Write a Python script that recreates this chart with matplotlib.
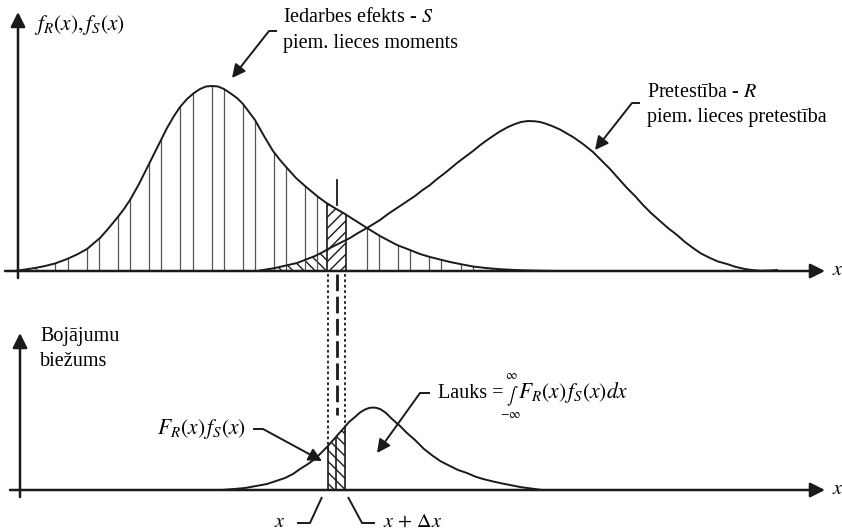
# Slodzes S un pretestības R sadalījumi un bojājumu biežums (shēma)
import matplotlib.pyplot as plt
import numpy as np
from matplotlib.patches import Polygon, Rectangle

plt.rcParams['font.family'] = ['Liberation Serif', 'DejaVu Serif']
plt.rcParams['mathtext.fontset'] = 'stix'
plt.rcParams['hatch.linewidth'] = 1.0

# nolasītas vērtības (x pozīcija, augstums virs ass)
s_x = [15, 25, 35, 45, 55, 67, 77, 87, 100, 108, 117, 124, 130, 139, 148, 154, 160, 167,
       174, 180, 187, 194, 200, 206, 212, 218, 224, 230, 237, 243, 249, 255, 264, 273,
       280, 287, 296, 305, 317, 325, 333, 345, 356, 367, 380, 397, 410, 420, 430, 440,
       450, 460, 473, 486, 500, 515, 530, 545, 560]
s_h = [0, 1.5, 3, 5, 7.5, 12, 16.5, 22, 33, 42, 53, 62, 71, 87, 105, 117, 129, 143,
       155, 164, 172, 178, 182, 184.5, 185, 184.5, 182, 178, 173, 167, 159, 151, 135, 120,
       111, 103, 93, 85, 75, 69, 64, 57, 50, 43, 35, 26, 21, 17, 14, 11.5,
       9, 7, 4.5, 3, 1.8, 1, 0.5, 0.2, 0]

r_x = [257, 266, 275, 286, 297, 306, 315, 323, 330, 340, 350, 358, 367, 380, 388, 397,
       406, 415, 422, 430, 437, 445, 451, 457, 465, 473, 481, 490, 499, 508, 515, 521,
       528, 535, 540, 545, 552, 560, 566, 573, 583, 593, 601, 610, 618, 627, 635, 643,
       651, 660, 668, 677, 685, 693, 701, 710, 718, 727, 736, 745, 752, 760, 770, 777]
r_h = [0, 1.5, 3, 5.5, 8, 11.5, 15, 19, 23, 28, 33, 38, 43, 51, 57, 63,
       69, 75, 80.5, 86, 92, 98, 103, 108, 114, 120, 126.5, 133, 139, 144, 147, 149,
       150, 149.7, 149, 147.6, 145, 141.5, 138, 134, 127, 119, 111, 102, 93, 83, 75, 66,
       58, 50, 43, 36, 29, 23, 17.5, 13, 9.5, 7, 4, 2, 1, 0.3, 0.5, 1]

b_x = [222, 234, 245, 256, 267, 276, 285, 293, 300, 308, 315, 321, 327, 335, 343, 349,
       355, 360, 365, 369, 373, 377, 381, 386, 392, 400, 407, 415, 424, 433, 441, 450, 458,
       467, 475, 483, 491, 500, 510, 520, 531, 542]
b_h = [0, 1, 2, 4, 6, 9, 12, 16, 21, 26, 31, 37, 43, 52, 61, 68,
       73, 77.5, 80.5, 82, 82.5, 82, 80.5, 77, 71, 64, 57, 50, 41, 34, 28.5, 24, 20,
       17, 13.5, 11, 9, 7, 5, 3, 1.5, 0]

# vertikālās svītras zem S līknes
stripe_x = [23, 36, 55, 68, 87, 99, 118, 130, 149, 161, 180, 193, 212, 224, 243, 255,
            274, 286, 305, 317, 367, 379, 398, 410, 429, 441, 461, 473, 492, 503, 523, 535]

x_lo, x_mid, x_hi = 327, 337, 346   # josla x ... x + dx
top_base, bot_base = 271, 490
ink = '#1a1a1a'

fig = plt.figure(figsize=(8.42, 5.31), dpi=100)
ax = fig.add_axes([0, 0, 1, 1])
ax.set_xlim(0, 842)
ax.set_ylim(531, 0)
ax.axis('off')

s_y = top_base - np.array(s_h)
r_y = top_base - np.array(r_h)
b_y = bot_base - np.array(b_h)

def area(xs, ys, base):
    pts = [(xs[0], base)] + list(zip(xs, ys)) + [(xs[-1], base)]
    return Polygon(pts, closed=True, transform=ax.transData)

s_area = area(s_x, s_y, top_base)
b_area = area(b_x, b_y, bot_base)

# svītras zem S
vl = ax.vlines(stripe_x, top_base, 0, color='#555555', lw=0.9)
vl.set_clip_path(s_area)

# F_R apgabals
f = ax.fill_between(r_x, top_base, r_y, facecolor='none', edgecolor=ink, hatch='\\\\\\', lw=0)
f.set_clip_path(Rectangle((r_x[0], 0), x_lo - r_x[0], 531, transform=ax.transData))

# josla augšā
f = ax.fill_between(s_x, top_base, s_y, facecolor='none', edgecolor=ink, hatch='///', lw=0)
f.set_clip_path(Rectangle((x_lo, 0), x_hi - x_lo, 531, transform=ax.transData))
vl = ax.vlines([x_lo, x_hi], top_base, 0, color=ink, lw=1.2)
vl.set_clip_path(s_area)
ax.plot([x_mid, x_mid], [180, 205], color=ink, lw=1.3)

# josla apakšā
f = ax.fill_between(b_x, bot_base, b_y, facecolor='none', edgecolor=ink, hatch='\\\\\\', lw=0)
f.set_clip_path(Rectangle((x_lo + 1, 0), x_hi - x_lo - 2, 531, transform=ax.transData))
vl = ax.vlines([x_lo + 1, x_mid - 1, x_hi - 1], bot_base, 0, color=ink, lw=1.2)
vl.set_clip_path(b_area)

# savienojošās līnijas
ax.plot([x_lo + 1, x_lo + 1], [274, 450], color=ink, lw=1.3, ls=(0, (1.5, 1.5)))
ax.plot([x_hi - 1, x_hi - 1], [274, 432], color=ink, lw=1.3, ls=(0, (1.5, 1.5)))
ax.plot([x_mid, x_mid], [274, 415], color=ink, lw=2.0, ls=(0, (6, 2)))

# līknes
ax.plot(s_x, s_y, color=ink, lw=1.4)
ax.plot(r_x, r_y, color=ink, lw=1.4)
ax.plot(b_x, b_y, color=ink, lw=1.4)

# asis
axarrow = dict(arrowstyle='-|>', lw=1.8, color=ink, mutation_scale=22, shrinkA=0, shrinkB=0)
ax.annotate('', xy=(18, 12), xytext=(18, 278), arrowprops=axarrow)
ax.annotate('', xy=(825, top_base), xytext=(5, top_base), arrowprops=axarrow)
ax.annotate('', xy=(20, 333), xytext=(20, 497), arrowprops=axarrow)
ax.annotate('', xy=(825, bot_base), xytext=(10, bot_base), arrowprops=axarrow)

fs = 14.5
fm = 15.5
ax.text(832, top_base + 4, '$x$', fontsize=fs, va='baseline')
ax.text(832, bot_base + 4, '$x$', fontsize=fs, va='baseline')
ax.text(34, 30, r'$f_R(x), f_S(x)$', fontsize=fm, va='baseline')
ax.text(40, 341, 'Bojājumu', fontsize=fs, va='baseline')
ax.text(40, 366, 'biežums', fontsize=fs, va='baseline')

# paskaidrojumi ar bultām
lead = dict(arrowstyle='-|>', lw=1.4, color=ink, mutation_scale=20, shrinkA=0, shrinkB=0)

def note(path, tip=None):
    xs, ys = zip(*path)
    ax.plot(xs, ys, color=ink, lw=1.4, solid_capstyle='butt')
    if tip is not None:
        ax.annotate('', xy=tip, xytext=path[-1], arrowprops=lead)

ax.text(283, 22, r'Iedarbes efekts - $S$', fontsize=fs, va='baseline')
ax.text(283, 48, 'piem. lieces moments', fontsize=fs, va='baseline')
note([(277, 31), (269, 31)], tip=(232, 78))

ax.text(647, 97, r'Pretestība - $R$', fontsize=fs, va='baseline')
ax.text(647, 122, 'piem. lieces pretestība', fontsize=fs, va='baseline')
note([(640, 103), (632, 103)], tip=(595, 150))

ax.text(246, 434, r'$F_R(x)\,f_S(x)$', fontsize=fm, va='baseline', ha='right')
note([(253, 429), (263, 429)], tip=(322, 461))

# Lauks = integrālis ar robežām virs un zem zīmes
ax.text(438, 398, 'Lauks =', fontsize=fs, va='baseline')
ax.text(506, 400, r'$\int$', fontsize=12, va='baseline')
ax.text(511, 379, r'$\infty$', fontsize=9, va='baseline', ha='center')
ax.text(511, 418, r'$-\infty$', fontsize=9, va='baseline', ha='center')
ax.text(518, 398, r'$F_R(x)\,f_S(x)dx$', fontsize=fm, va='baseline')
note([(430, 393), (420, 393)], tip=(377, 453))

ax.text(280, 527, '$x$', fontsize=fs, va='baseline', ha='center')
note([(297, 523), (310, 523), (322, 497)])
ax.text(383, 527, r'$x\,+\,\Delta x$', fontsize=fs, va='baseline')
note([(348, 497), (362, 523), (375, 523)])

fig.savefig('out.png', dpi=100)
